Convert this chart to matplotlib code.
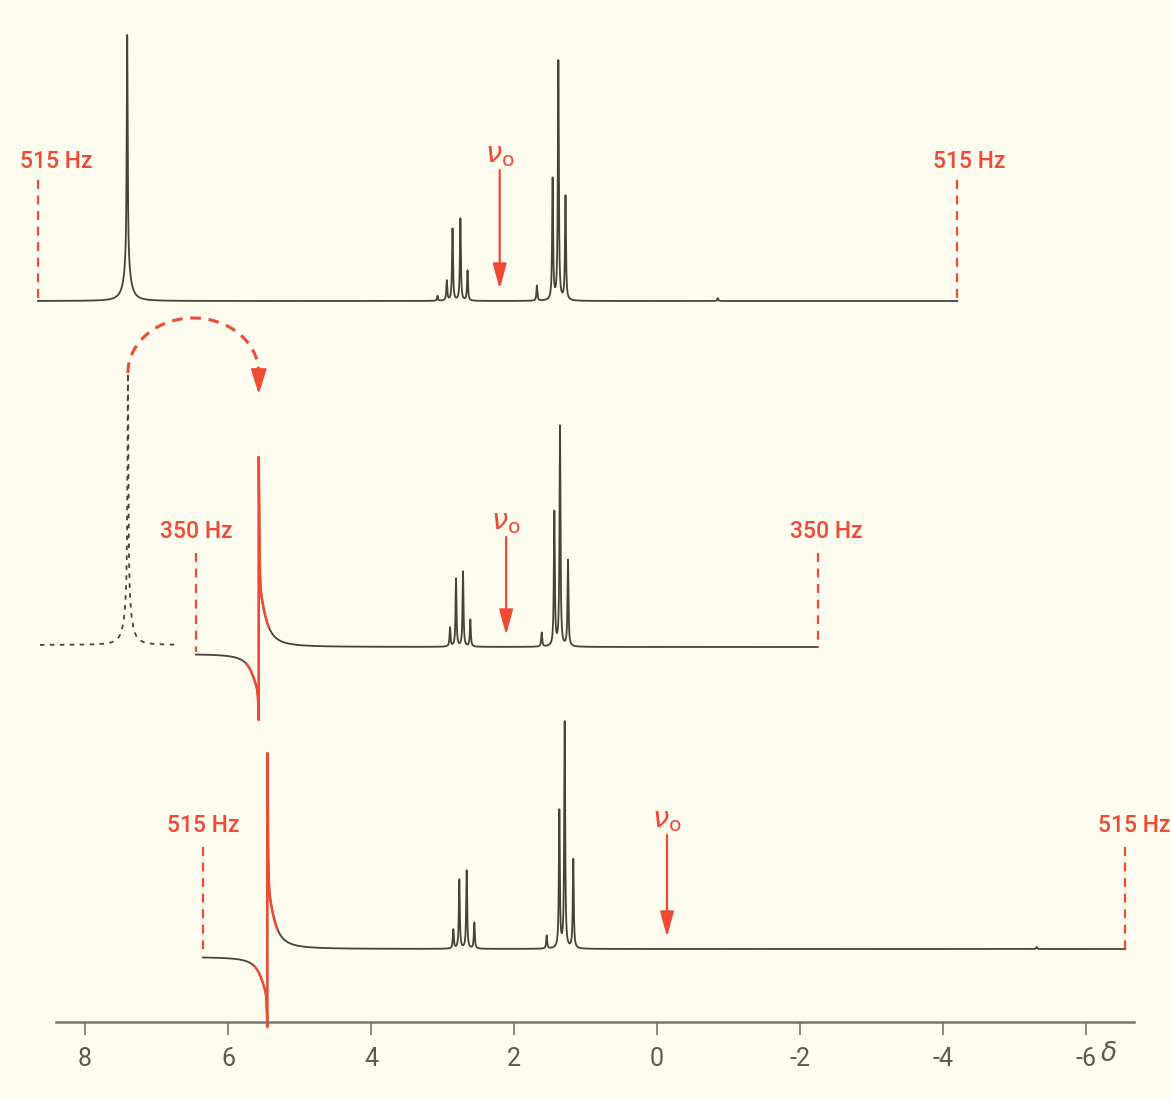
import numpy as np
import matplotlib.pyplot as plt

# 60 MHz proton spectra, ppm (0 ppm at x=657 px, ~71.5 px per ppm)
PX_PER_PPM = 71.5
PAPER = '#fdfcef'
INK = '#47423c'
RED = '#ee4a35'

# --- top trace: full sweep, 515 Hz each side of nu0
top_range = (8.66, -4.20)
top_nu0 = 2.20
top_peaks = [7.41, 3.07, 2.94, 2.86, 2.75, 2.65, 1.68, 1.46, 1.38, 1.28, -0.85]
top_heights = [233, 5, 20, 72, 82, 30, 15, 121, 239, 104, 3]
top_foot = (7.41, 33)          # broad foot under the aromatic line

# --- middle trace: 350 Hz sweep, aromatic line folded back
mid_range = (6.45, -2.25)
mid_nu0 = 2.11
mid_peaks = [2.895, 2.811, 2.713, 2.611, 1.613, 1.436, 1.357, 1.245]
mid_heights = [19, 68, 75, 27, 14, 134, 220, 86]
mid_fold = (5.57, 190, 73, 7)  # position, height up, depth down, offset left of it
ghost_range = (8.63, 6.71)
ghost_peak = (7.40, 227, 45)   # position, sharp part, broad foot

# --- bottom trace: 515 Hz sweep, nu0 moved
bot_range = (6.35, -6.55)
bot_nu0 = -0.14
bot_peaks = [2.849, 2.765, 2.662, 2.555, 1.543, 1.366, 1.291, 1.171, -5.31]
bot_heights = [19, 69, 78, 26, 13, 137, 226, 89, 2]
bot_fold = (5.45, 196, 78, 8)

sweep_labels = ['515 Hz', '350 Hz', '515 Hz']
scale_ticks = [8, 6, 4, 2, 0, -2, -4, -6]
scale_labels = ['8', '6', '4', '2', '0', '-2', '-4', '-6']

# layout (paper y position of each baseline, pixels from the top)
BASE = [301, 647, 949]
SHARP = 0.008   # half width of the sharp lines, ppm
BROAD = 0.055


def lorentz(x, x0, w):
    return w ** 2 / ((x - x0) ** 2 + w ** 2)


def absorption(x, peaks, heights):
    y = np.zeros_like(x)
    for p, h in zip(peaks, heights):
        y += h * lorentz(x, p, SHARP)
    return y


def folded(x, fold):
    # aliased line: sharp jump from below to above the baseline, tails on both sides
    x0, up, down, step = fold
    wb = 8 / PX_PER_PPM
    ws = 0.6 / PX_PER_PPM
    right = 50 * lorentz(x, x0, wb) + (up - 50) * lorentz(x, x0, ws)
    left = -(step + 33 * lorentz(x, x0, wb) + (down - step - 33) * lorentz(x, x0, ws))
    return np.where(x < x0, right, left)


def grid(rng):
    return np.arange(rng[1], rng[0], 0.0004)[::-1]


def px(p):
    # paper pixel column -> delta
    return (657 - p) / PX_PER_PPM


fig = plt.figure(figsize=(11.71, 11.0), dpi=100, facecolor=PAPER)
ax = fig.add_axes([0, 0, 1, 1])
ax.set_facecolor(PAPER)
ax.set_xlim(px(0), px(1171))
ax.set_ylim(1100, 0)

# top trace
x = grid(top_range)
y = absorption(x, top_peaks, top_heights) + top_foot[1] * lorentz(x, top_foot[0], BROAD)
ax.plot(x, BASE[0] - y, color=INK, lw=1.3)

# middle trace
x = grid(mid_range)
y = absorption(x, mid_peaks, mid_heights) + folded(x, mid_fold)
ax.plot(x, BASE[1] - y, color=INK, lw=1.3)
m = (x > mid_fold[0] - 0.14) & (x < mid_fold[0] + 0.17)
ax.plot(x[m], BASE[1] - y[m], color=RED, lw=1.8)

xg = grid(ghost_range)
yg = ghost_peak[1] * lorentz(xg, ghost_peak[0], SHARP) + ghost_peak[2] * lorentz(xg, ghost_peak[0], BROAD)
ax.plot(xg, BASE[1] - 2 - yg, color=INK, lw=1.3, ls=(0, (2.5, 3)))

# bottom trace
x = grid(bot_range)
y = absorption(x, bot_peaks, bot_heights) + folded(x, bot_fold)
ax.plot(x, BASE[2] - y, color=INK, lw=1.3)
m = (x > bot_fold[0] - 0.14) & (x < bot_fold[0] + 0.19)
ax.plot(x[m], BASE[2] - y[m], color=RED, lw=1.8)

# sweep limits, dashed red markers
ranges = [top_range, mid_range, bot_range]
label_y = [162, 532, 825]
mark_top = [180, 553, 847]
label_shift = [(18, 24), (36, 28), (36, 27)]
for i, rng in enumerate(ranges):
    for j, edge in enumerate(rng):
        ax.plot([edge, edge], [mark_top[i], BASE[i] + (5 if j == 0 and i > 0 else 0)],
                color=RED, lw=1.6, ls=(0, (4, 3)))
        ax.text(edge + label_shift[i][j] / PX_PER_PPM, label_y[i], sweep_labels[i],
                color=RED, fontsize=16.5, family='Roboto', fontweight='medium',
                ha='left', va='center')

# nu0 arrows
nu0s = [top_nu0, mid_nu0, bot_nu0]
arrow_top = [170, 537, 835]
for i, nu in enumerate(nu0s):
    ax.annotate('', xy=(nu, BASE[i] - 12), xytext=(nu, arrow_top[i]),
                arrowprops=dict(arrowstyle='-|>,head_length=1.1,head_width=0.3',
                                color=RED, lw=1.6, mutation_scale=14, shrinkA=0, shrinkB=0))
    ax.text(nu, arrow_top[i] - 15, r'$\nu_{\mathrm{o}}$', color=RED, fontsize=21,
            ha='center', va='center')

# dashed red arc carrying the folded line over
c = (ghost_peak[0] + mid_fold[0]) / 2
a = (ghost_peak[0] - mid_fold[0]) / 2
t = np.linspace(np.pi, 0, 60)
arc_x = c - a * np.cos(t)
arc_y = 373 - 55 * np.sin(t)
ax.plot(arc_x, arc_y, color=RED, lw=2.2, ls=(0, (3.5, 2.5)))
ax.annotate('', xy=(mid_fold[0], 394), xytext=(mid_fold[0], 372),
            arrowprops=dict(arrowstyle='-|>,head_length=1.1,head_width=0.35',
                            color=RED, lw=1.5, mutation_scale=14, shrinkA=0, shrinkB=0))

# delta scale
for s in ['top', 'left', 'right']:
    ax.spines[s].set_visible(False)
ax.spines['bottom'].set_position(('data', 1022))
ax.spines['bottom'].set_bounds(px(1134), px(56))
ax.spines['bottom'].set_color('#77766f')
ax.spines['bottom'].set_linewidth(1.8)
ax.set_yticks([])
ax.set_xticks(scale_ticks)
ax.set_xticklabels(scale_labels, family='Roboto')
ax.tick_params(axis='x', direction='out', length=9, width=1.2, pad=9,
               labelsize=18, colors='#77766f', labelcolor='#5a5954')
ax.text(px(1108), 1054, r'$\delta$', fontsize=19, color='#5a5954',
        ha='center', va='center')

fig.savefig('out.png', dpi=100, facecolor=PAPER)
